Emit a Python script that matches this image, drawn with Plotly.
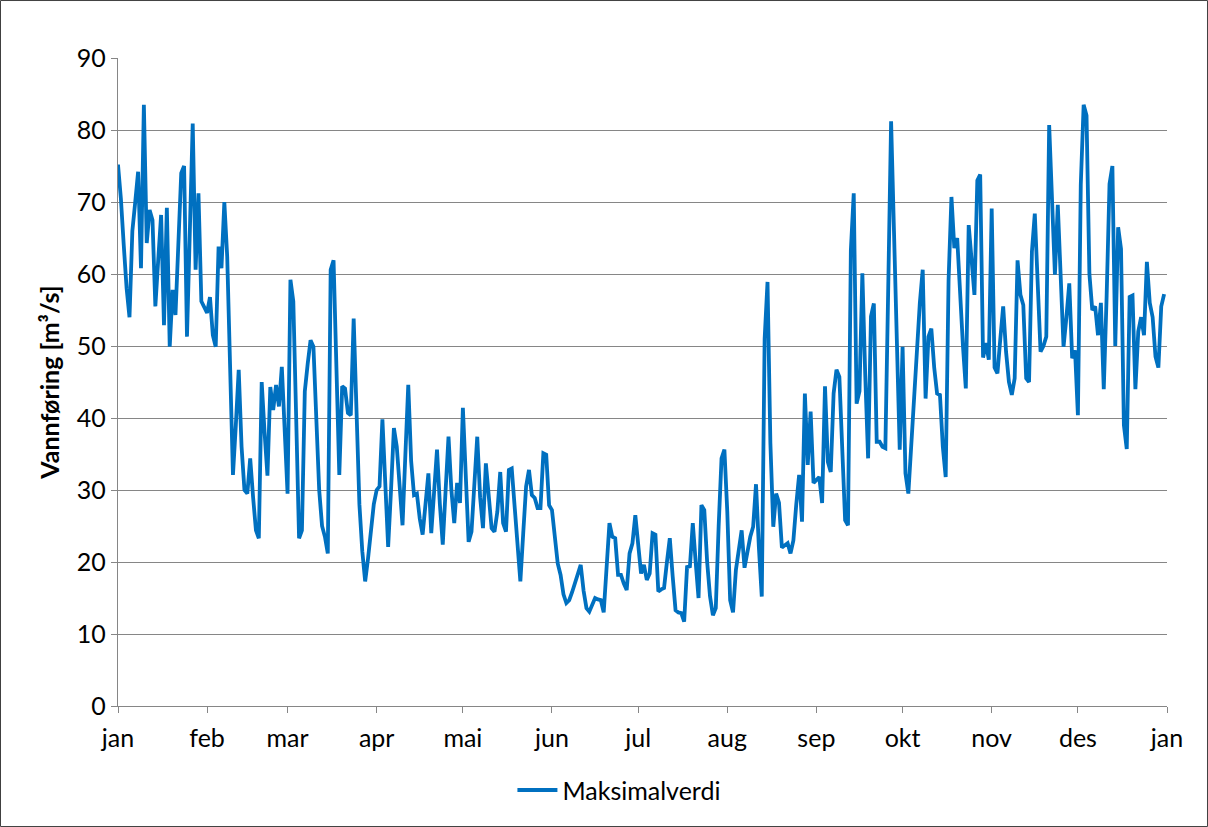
import pandas as pd
import plotly.graph_objects as go

# Daily maximum discharge (m³/s), one list per month
jan = [75.2, 70.5, 64, 58, 54, 66, 70, 74.2, 60.8, 83.5, 64.3, 68.9, 67.5, 55.5, 62, 68.2,
       52.9, 69.2, 49.9, 57.8, 54.3, 64, 74, 75, 51.3, 66, 80.9, 60.6, 71.2, 56.2, 55.5]
feb = [54.6, 56.8, 51.5, 49.9, 63.8, 60.8, 70.0, 62.4, 48.0, 32.1, 39.0, 46.7, 36.0, 30.0,
       29.5, 34.4, 29.0, 24.4, 23.3, 45.0, 38.0, 32.0, 44.3, 41.1, 44.6, 41.6, 47.1, 37.0]
mar = [29.5, 59.2, 56.2, 40, 23.3, 24.4, 43.7, 47.5, 50.8, 49.9, 40, 30, 25, 23.5, 21.2, 60.6,
       61.9, 45, 32.1, 44.4, 44.1, 40.7, 40.4, 53.8, 40, 28, 21.5, 17.3, 20.5, 24.5, 28]
apr = [30, 30.5, 39.8, 31, 22.1, 30, 38.6, 36, 30, 25.1, 35, 44.6, 34, 29.3, 29.5, 26,
       23.8, 28, 32.3, 24, 30, 35.6, 28, 22.4, 30, 37.4, 30, 25.4, 31, 28.2]
mai = [41.4, 32, 22.8, 24.2, 30, 37.4, 29, 24.7, 33.7, 29, 24.7, 24.2, 27, 32.5, 25.4, 24.2,
       32.8, 33.0, 28, 22, 17.3, 24, 30.5, 32.8, 29.3, 28.9, 27.5, 27.5, 35.1, 34.9, 27.9]
jun = [27.2, 24, 19.8, 18.2, 15.5, 14.3, 14.7, 15.8, 17.1, 18.5, 19.6, 16, 13.6, 13.1, 14,
       15, 14.8, 14.7, 13, 19, 25.4, 23.5, 23.3, 18.2, 18.2, 17, 16.1, 21.2, 22.6, 26.5]
jul = [22.5, 18.4, 19.6, 17.5, 18.4, 24.0, 23.8, 15.9, 16.2, 16.4, 20.0, 23.3, 18.0, 13.3,
       13.0, 12.9, 11.7, 19.3, 19.4, 25.4, 20.0, 15.0, 27.9, 27.2, 20.0, 15.2, 12.6, 13.6,
       25.0, 34.4, 35.6]
aug = [27, 14.7, 13.0, 18.9, 21.5, 24.4, 19.2, 21.5, 23.5, 24.9, 30.8, 22, 15.2, 51, 58.9,
       36.5, 24.9, 29.5, 28.2, 22, 22.3, 22.6, 21.2, 23, 28, 32.1, 25.6, 43.4, 33.5, 40.9, 31]
sep = [31.5, 31.8, 28.2, 44.4, 33.9, 32.5, 43.4, 46.7, 45.7, 35, 25.8, 25.1, 63.3, 71.2, 42,
       43.7, 60.1, 46, 34.4, 54.1, 55.9, 36.7, 36.7, 36, 35.8, 58, 81.2, 66, 50, 35.6]
okt = [49.9, 32.3, 29.5, 36, 44, 51, 56, 60.6, 42.7, 51.3, 52.4, 47, 43.4, 43.2, 36, 31.8,
       59.2, 70.7, 63.6, 65, 57, 50, 44.1, 66.8, 62, 57.1, 73, 73.8, 48.4, 50.4, 48.1]
nov = [69.1, 47, 46.2, 51, 55.5, 49.2, 45, 43.2, 45.5, 61.9, 57.1, 55.7, 45.5, 45, 63.1,
       68.4, 58, 49.2, 50, 51.3, 80.7, 70, 59.9, 69.6, 60, 49.9, 54, 58.7, 48.3, 49.4]
des = [40.4, 72.4, 83.5, 82, 60, 55, 55.5, 51.5, 56, 44, 57, 72.5, 75, 50, 66.5, 63.5, 39,
       35.7, 56.8, 57, 44, 52, 54, 51.5, 61.7, 56, 54, 48.5, 47, 55.5, 57.2]

month_labels = ["jan", "feb", "mar", "apr", "mai", "jun", "jul", "aug", "sep", "okt",
                "nov", "des", "jan"]
y_ticks = [0, 10, 20, 30, 40, 50, 60, 70, 80, 90]

values = jan + feb + mar + apr + mai + jun + jul + aug + sep + okt + nov + des
dates = pd.date_range("2011-01-01", periods=len(values), freq="D")
month_starts = pd.date_range("2011-01-01", "2012-01-01", freq="MS")

grid = "#868686"
font = "Lato, 'Liberation Sans', sans-serif"
fsize = 25

fig = go.Figure()
fig.add_trace(go.Scatter(
    x=dates, y=values, mode="lines", name="Maksimalverdi",
    line=dict(color="#0070C0", width=3.8),
))

fig.update_layout(
    width=1208, height=827,
    margin=dict(l=118, r=41, t=58, b=121),
    paper_bgcolor="white", plot_bgcolor="white",
    font=dict(family=font, size=fsize, color="black"),
    showlegend=True,
    legend=dict(orientation="h", x=0.478, xanchor="center", y=-0.13, yanchor="middle",
                font=dict(size=fsize), itemwidth=40),
    xaxis=dict(
        range=[month_starts[0], month_starts[-1]],
        tickvals=month_starts, ticktext=month_labels,
        showgrid=False, showline=True, linecolor=grid, linewidth=1.3,
        ticks="outside", ticklen=6, tickcolor=grid, tickwidth=1.3,
        tickfont=dict(size=fsize), zeroline=False, ticklabelstandoff=4,
    ),
    yaxis=dict(
        range=[0, 90], tickvals=y_ticks,
        showgrid=True, gridcolor=grid, gridwidth=1.3,
        showline=True, linecolor=grid, linewidth=1.3,
        ticks="outside", ticklen=6, tickcolor=grid, tickwidth=1.3,
        tickfont=dict(size=fsize), zeroline=False,
        title=dict(text="<b>Vannføring [m³/s]</b>", font=dict(size=fsize), standoff=10),
    ),
    shapes=[dict(
        type="rect", xref="paper", yref="paper",
        x0=-0.1120, x1=1.0386, y0=-0.1860, y1=1.0887,
        line=dict(color="#404040", width=1), fillcolor="rgba(0,0,0,0)", layer="below",
    )],
)

fig.write_html("out.html")
